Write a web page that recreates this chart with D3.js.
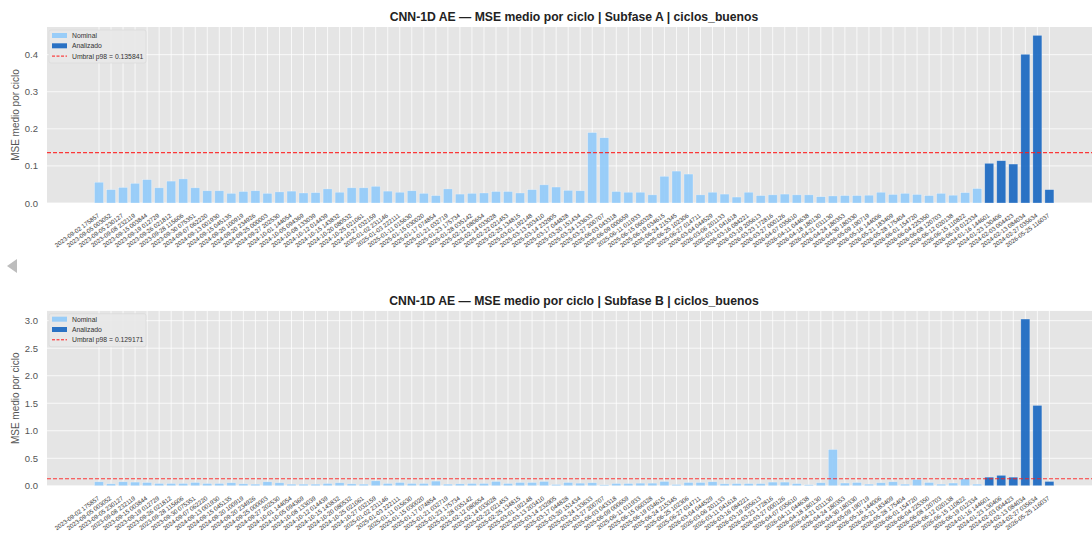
<!DOCTYPE html>
<html>
<head>
<meta charset="utf-8">
<script src="https://cdn.jsdelivr.net/npm/d3@7"></script>
<style>
  body { margin: 0; background: #fff; }
  svg { display: block; font-family: "Liberation Sans", Arial, Helvetica, sans-serif; }
</style>
</head>
<body>
<svg id="chart" width="1092" height="542"></svg>
<script>
// Cycle timestamps (one bar per cycle)
const cycles = [
  "2023-09-02 175857", "2023-09-05 003052", "2023-09-05 230127", "2023-09-08 232119",
  "2023-09-15 003844", "2023-09-19 012729", "2023-09-26 021812", "2023-09-28 115606",
  "2023-09-30 075351", "2024-09-07 062220", "2024-09-13 001930", "2024-09-15 045135",
  "2024-09-20 100919", "2024-09-20 234926", "2024-09-25 000003", "2024-09-27 202530",
  "2024-10-01 144054", "2024-10-05 094369", "2024-10-08 133039", "2024-10-12 014439",
  "2024-10-15 143832", "2024-10-20 080532", "2024-10-25 021061", "2024-10-27 032159",
  "2025-01-02 231146", "2025-01-03 222111", "2025-01-11 015630", "2025-01-15 030020",
  "2025-01-17 074854", "2025-01-21 032719", "2025-01-23 175734", "2025-01-28 035142",
  "2025-02-12 080654", "2025-02-14 033028", "2025-02-22 021453", "2025-02-25 134815",
  "2025-03-01 192148", "2025-03-13 203410", "2025-03-14 232905", "2025-03-17 044828",
  "2025-03-20 151434", "2025-03-24 133633", "2025-03-27 200707", "2025-06-03 043318",
  "2025-06-09 000659", "2025-06-11 011933", "2025-06-15 060328", "2025-06-19 034615",
  "2025-06-24 215345", "2025-06-25 102306", "2025-06-27 014711", "2026-03-04 044529",
  "2026-03-06 201133", "2026-03-11 041618", "2026-03-16 084221", "2026-03-19 205613",
  "2026-03-23 172816", "2026-03-27 000126", "2026-04-07 035610", "2026-04-11 044638",
  "2026-04-18 180130", "2026-04-21 031130", "2026-04-24 180353", "2026-04-30 180330",
  "2026-05-09 190719", "2026-05-16 144006", "2026-05-21 183409", "2026-05-28 175404",
  "2026-06-01 154720", "2026-06-04 225350", "2026-06-08 120703", "2026-06-12 020138",
  "2026-06-15 110822", "2026-06-19 012334", "2024-01-16 144601", "2024-01-23 130406",
  "2024-02-03 004423", "2024-02-13 084034", "2024-02-27 035634", "2026-05-25 116037"
];

// Cycles under analysis (drawn dark)
const analyzedCycles = [
  "2024-01-16 144601", "2024-01-23 130406", "2024-02-03 004423",
  "2024-02-13 084034", "2024-02-27 035634", "2026-05-25 116037"
];

// Mean MSE per cycle, sub-phase A
const mseA = [
  0.056, 0.036, 0.042, 0.053, 0.063, 0.041, 0.059, 0.065, 0.041, 0.033,
  0.033, 0.026, 0.031, 0.033, 0.026, 0.030, 0.032, 0.027, 0.028, 0.038,
  0.029, 0.041, 0.041, 0.045, 0.032, 0.029, 0.033, 0.026, 0.020, 0.038,
  0.024, 0.026, 0.027, 0.031, 0.031, 0.027, 0.036, 0.049, 0.043, 0.034,
  0.033, 0.190, 0.176, 0.031, 0.029, 0.029, 0.022, 0.072, 0.086, 0.078,
  0.022, 0.029, 0.024, 0.016, 0.029, 0.020, 0.022, 0.024, 0.022, 0.022,
  0.017, 0.019, 0.020, 0.020, 0.021, 0.029, 0.023, 0.026, 0.023, 0.020,
  0.026, 0.021, 0.028, 0.039, 0.107, 0.114, 0.105, 0.401, 0.452, 0.036
];

// Mean MSE per cycle, sub-phase B
const mseB = [
  0.073, 0.036, 0.073, 0.067, 0.060, 0.042, 0.042, 0.042, 0.060, 0.042,
  0.042, 0.055, 0.036, 0.030, 0.073, 0.055, 0.030, 0.030, 0.030, 0.042,
  0.055, 0.036, 0.030, 0.090, 0.042, 0.060, 0.042, 0.042, 0.085, 0.030,
  0.036, 0.042, 0.042, 0.079, 0.042, 0.060, 0.060, 0.079, 0.024, 0.060,
  0.048, 0.055, 0.018, 0.042, 0.042, 0.048, 0.048, 0.079, 0.024, 0.060,
  0.060, 0.073, 0.036, 0.040, 0.040, 0.040, 0.067, 0.067, 0.040, 0.020,
  0.055, 0.660, 0.050, 0.060, 0.030, 0.055, 0.073, 0.030, 0.115, 0.060,
  0.030, 0.050, 0.127, 0.030, 0.157, 0.190, 0.157, 3.030, 1.460, 0.079
];

// p98 thresholds
const thresholdA = 0.135841;
const thresholdB = 0.129171;

// Y tick values
const ticksA = [0, 0.1, 0.2, 0.3, 0.4];
const ticksB = [0, 0.5, 1.0, 1.5, 2.0, 2.5, 3.0];

const COLOR_NOMINAL = "#90CAF9";
const COLOR_ANALYZED = "#1565C0";
const COLOR_BG = "#E5E5E5";

const svg = d3.select("#chart");
svg.append("rect").attr("width", 1092).attr("height", 542).attr("fill", "#fff");

const plotLeft = 47, plotRight = 1101;

const x = d3.scalePoint().domain(cycles).range([99, 1049.4]);
const barW = 9;

const panels = [
  { id: "a", title: "CNN-1D AE \u2014 MSE medio por ciclo | Subfase A | ciclos_buenos",
    values: mseA, threshold: thresholdA, ticks: ticksA, top: 27, bottom: 203 },
  { id: "b", title: "CNN-1D AE \u2014 MSE medio por ciclo | Subfase B | ciclos_buenos",
    values: mseB, threshold: thresholdB, ticks: ticksB, top: 310.7, bottom: 485.8 }
];

const defs = svg.append("defs");

panels.forEach(p => {
  const y = d3.scaleLinear()
    .domain([0, d3.max(p.values) * 1.05])
    .range([p.bottom, p.top]);

  const clipId = "clip-" + p.id;
  defs.append("clipPath").attr("id", clipId)
    .append("rect")
    .attr("x", plotLeft).attr("y", p.top)
    .attr("width", plotRight - plotLeft).attr("height", p.bottom - p.top);

  const g = svg.append("g");
  const plot = g.append("g").attr("clip-path", `url(#${clipId})`);

  // background
  plot.append("rect")
    .attr("x", plotLeft).attr("y", p.top)
    .attr("width", plotRight - plotLeft).attr("height", p.bottom - p.top)
    .attr("fill", COLOR_BG);

  // grid
  plot.selectAll("line.vg").data(cycles).enter().append("line")
    .attr("x1", d => x(d)).attr("x2", d => x(d))
    .attr("y1", p.top).attr("y2", p.bottom)
    .attr("stroke", "#fff").attr("stroke-width", 0.9).attr("stroke-opacity", 0.85);
  plot.selectAll("line.hg").data(p.ticks).enter().append("line")
    .attr("x1", plotLeft).attr("x2", plotRight)
    .attr("y1", d => y(d)).attr("y2", d => y(d))
    .attr("stroke", "#fff").attr("stroke-width", 0.9).attr("stroke-opacity", 0.85);

  // bars
  const rows = cycles.map((c, i) => ({ c, v: p.values[i], analyzed: analyzedCycles.includes(c) }));
  plot.selectAll("rect.bar").data(rows).enter().append("rect")
    .attr("x", d => x(d.c) - barW / 2)
    .attr("width", barW)
    .attr("y", d => y(d.v))
    .attr("height", d => y(0) - y(d.v))
    .attr("fill", d => d.analyzed ? COLOR_ANALYZED : COLOR_NOMINAL)
    .attr("fill-opacity", 0.9)
    .attr("stroke", "#fff").attr("stroke-opacity", 0.45).attr("stroke-width", 0.6);

  // threshold
  plot.append("line")
    .attr("x1", plotLeft).attr("x2", plotRight)
    .attr("y1", y(p.threshold)).attr("y2", y(p.threshold))
    .attr("stroke", "#FF1A1A").attr("stroke-opacity", 0.85)
    .attr("stroke-width", 1.1).attr("stroke-dasharray", "4,2");

  // y axis
  const ya = g.append("g").attr("transform", `translate(${plotLeft},0)`)
    .call(d3.axisLeft(y).tickValues(p.ticks).tickFormat(d3.format(".1f")).tickSize(0).tickPadding(9));
  ya.select(".domain").remove();
  ya.selectAll("text").attr("fill", "#555").attr("font-size", 9.5)
    .attr("font-family", "Liberation Sans, Arial, sans-serif");

  // x axis: rotated cycle labels
  const xa = g.append("g").attr("transform", `translate(0,${p.bottom})`)
    .call(d3.axisBottom(x).tickSize(0).tickPadding(0));
  xa.select(".domain").remove();
  xa.selectAll("text")
    .attr("fill", "#333").attr("font-size", 6.1)
    .attr("font-family", "Liberation Sans, Arial, sans-serif")
    .attr("text-anchor", "end")
    .attr("dy", 0)
    .attr("y", 0)
    .attr("transform", "translate(0.2,13.5) rotate(-36)");

  // y label
  g.append("text")
    .attr("transform", `translate(19,${(p.top + p.bottom) / 2}) rotate(-90)`)
    .attr("text-anchor", "middle")
    .attr("fill", "#555").attr("font-size", 10)
    .text("MSE medio por ciclo");

  // title
  g.append("text")
    .attr("x", (plotLeft + plotRight) / 2).attr("y", p.top - 6)
    .attr("text-anchor", "middle")
    .attr("font-weight", "bold").attr("font-size", 12.2).attr("fill", "#222")
    .text(p.title);

  // legend
  const lg = g.append("g").attr("transform", `translate(49,${p.top + 3})`);
  lg.append("rect").attr("width", 97).attr("height", 33).attr("rx", 2)
    .attr("fill", "#E8E8E8").attr("fill-opacity", 0.9)
    .attr("stroke", "#D6D6D6").attr("stroke-width", 0.6);
  const items = [
    { label: "Nominal", type: "patch", color: COLOR_NOMINAL },
    { label: "Analizado", type: "patch", color: COLOR_ANALYZED },
    { label: "Umbral p98 = " + p.threshold.toFixed(6), type: "line", color: "#FF1A1A" }
  ];
  items.forEach((it, i) => {
    const cy = 5.5 + i * 10.3;
    if (it.type === "patch") {
      lg.append("rect").attr("x", 3).attr("y", cy - 2.5).attr("width", 15).attr("height", 5)
        .attr("fill", it.color).attr("fill-opacity", 0.9);
    } else {
      lg.append("line").attr("x1", 3).attr("x2", 18).attr("y1", cy).attr("y2", cy)
        .attr("stroke", it.color).attr("stroke-width", 1).attr("stroke-dasharray", "3,1.5");
    }
    lg.append("text").attr("x", 23).attr("y", cy + 2.4)
      .attr("font-size", 6.8).attr("fill", "#333").text(it.label);
  });
});

// side navigation arrow
svg.append("path")
  .attr("d", d3.line()([[17, 259], [17, 273], [7, 266]]) + "Z")
  .attr("fill", "#BDBDBD");
</script>
</body>
</html>
